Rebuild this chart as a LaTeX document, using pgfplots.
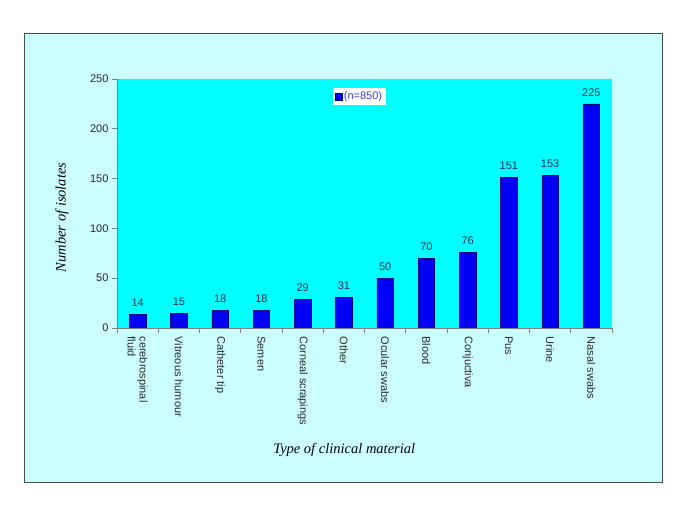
\documentclass[border=0pt]{standalone}
\usepackage{pgfplots}
\pgfplotsset{compat=1.18}
\usepackage{fontspec}
\setmainfont{Liberation Sans}
\newfontfamily\timesf{Liberation Serif}
\definecolor{pagebg}{RGB}{204,255,255}
\definecolor{plotbg}{RGB}{0,255,255}
\definecolor{barblue}{RGB}{0,0,245}
\definecolor{baredge}{RGB}{0,0,120}
\definecolor{legtext}{RGB}{60,70,200}
\definecolor{txt}{RGB}{40,40,40}
\definecolor{numtxt}{RGB}{40,50,80}
\pgfkeys{/pgf/number format/assume math mode=true}
\begin{document}
\begin{tikzpicture}
\useasboundingbox (0,0) rectangle (685pt,513pt);
\fill[white] (0,0) rectangle (685pt,513pt);
\filldraw[fill=pagebg, draw=black!70, line width=0.8pt] (24pt,31pt) rectangle (662pt,480pt);
\begin{axis}[
  at={(117pt,185pt)}, anchor=south west,
  scale only axis, width=495pt, height=249pt,
  xmin=-0.5, xmax=11.5, ymin=0, ymax=250,
  axis background/.style={fill=plotbg},
  axis x line=bottom, axis y line=left,
  axis line style={-, draw=gray, line width=0.6pt},
  tick align=outside, major tick length=5pt,
  tick style={draw=gray, line width=0.6pt},
  ytick={0,50,100,150,200,250},
  xtick={-0.5,0.5,1.5,2.5,3.5,4.5,5.5,6.5,7.5,8.5,9.5,10.5,11.5},
  x tick label as interval,
  xticklabels={{cerebrospinal\\fluid},Vitreous humour,Catheter tip,Semen,Corneal scrapings,Other,Ocular swabs,Blood,Conjuctiva,Pus,Urine,Nasal swabs},
  xticklabel style={rotate=-90, anchor=west, align=left, font=\fontsize{11}{12}\selectfont, text=txt},
  yticklabel style={font=\fontsize{11}{12}\selectfont, text=txt},
  xlabel={\timesf\itshape Type of clinical material},
  ylabel={\timesf\itshape Number of isolates},
  every axis x label/.style={at={(axis description cs:0.459,-0.49)}, anchor=center, font=\fontsize{14.5}{16}\selectfont},
  every axis y label/.style={at={(axis description cs:-0.111,0.444)}, rotate=90, anchor=center, font=\fontsize{14.5}{16}\selectfont},
  ybar, bar width=0.40,
  nodes near coords,
  every node near coord/.append style={font=\fontsize{11}{12}\selectfont, text=numtxt, yshift=4pt},
  legend style={at={(0.436,0.964)}, anchor=north west, draw=none, fill=white, font=\fontsize{11}{12}\selectfont, text=legtext, inner sep=1.5pt},
  legend image code/.code={\fill[barblue, draw=baredge] (0pt,-3.5pt) rectangle (7pt,3.5pt);},
]
\addplot[fill=barblue, draw=baredge, line width=0.4pt] coordinates {
  (0,14) (1,15) (2,18) (3,18) (4,29) (5,31) (6,50) (7,70) (8,76) (9,151) (10,153) (11,225)
};
\addlegendentry{(n=850)}
\end{axis}
\end{tikzpicture}
\end{document}
